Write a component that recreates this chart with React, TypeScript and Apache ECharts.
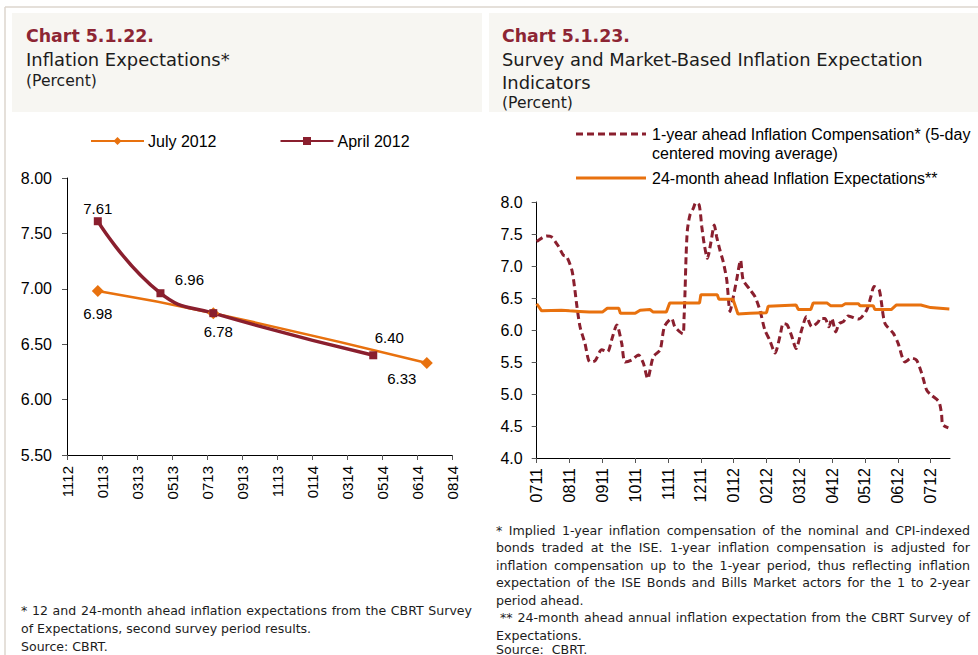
import React, { useEffect, useRef } from 'react';
import * as echarts from 'echarts';

// ---------- Left chart data (Chart 5.1.22) ----------
const leftTickLabels = ['1112', '0113', '0313', '0513', '0713', '0913', '1113', '0114', '0314', '0514', '0614', '0814'];
const leftYTicks = { min: 5.5, max: 8.0, step: 0.5 };
const july2012X = [0.88, 4.18, 10.28];
const july2012Y = [6.98, 6.78, 6.33];
const april2012X = [0.88, 2.67, 4.18, 8.75];
const april2012Y = [7.61, 6.96, 6.78, 6.4];

// ---------- Right chart data (Chart 5.1.23) ----------
const rightTickLabels = ['0711', '0811', '0911', '1011', '1111', '1211', '0112', '0212', '0312', '0412', '0512', '0612', '0712'];
const rightYTicks = { min: 4.0, max: 8.0, step: 0.5 };
const rightXMax = 12.59;
const compMonths = [
  0, 0.3, 0.44, 0.66, 0.81, 0.91, 1.07, 1.15, 1.22, 1.32, 1.47, 1.62, 1.78, 1.98, 2.16, 2.28, 2.44, 2.59, 2.69, 2.89,
  3.1, 3.25, 3.38, 3.55, 3.76, 3.89, 4.11, 4.21, 4.45, 4.49, 4.52, 4.55, 4.59, 4.67, 4.77, 4.85, 4.95, 5.03, 5.1, 5.2,
  5.3, 5.41, 5.48, 5.58, 5.68, 5.79, 5.89, 5.97, 6.09, 6.21, 6.29, 6.5, 6.65, 6.8, 6.95, 7.1, 7.26, 7.41, 7.51, 7.63,
  7.77, 7.9, 8.07, 8.22, 8.38, 8.58, 8.63, 8.78, 8.9, 8.99, 9.11, 9.21, 9.34, 9.49, 9.8, 10.05, 10.18, 10.28, 10.43,
  10.49, 10.61, 10.86, 11.01, 11.22, 11.42, 11.57, 11.73, 11.88, 12.03, 12.25, 12.33, 12.37, 12.54,
];
const compValues = [
  7.38, 7.47, 7.46, 7.31, 7.17, 7.15, 6.94, 6.68, 6.39, 6.05, 5.79, 5.5, 5.52, 5.69, 5.66, 5.84, 6.08, 5.79, 5.5, 5.53,
  5.61, 5.48, 5.24, 5.58, 5.69, 6.05, 6.18, 6.05, 5.94, 6.21, 6.62, 7.15, 7.56, 7.8, 7.9, 7.99, 7.95, 7.61, 7.35, 7.12,
  7.35, 7.64, 7.46, 7.25, 7.07, 6.78, 6.29, 6.47, 6.78, 7.09, 6.78, 6.63, 6.52, 6.31, 6.0, 5.84, 5.64, 5.9, 6.1, 6.08,
  5.9, 5.71, 6.0, 6.21, 6.05, 6.13, 6.18, 6.18, 6.05, 6.18, 5.97, 6.1, 6.13, 6.22, 6.17, 6.31, 6.52, 6.68, 6.63,
  6.47, 6.1, 5.95, 5.79, 5.5, 5.56, 5.53, 5.32, 5.06, 4.98, 4.88, 4.7, 4.52, 4.47,
];
const expMonths = [
  0, 0.15, 0.75, 1.0, 1.3, 1.6, 2.0, 2.15, 2.5, 2.55, 3.0, 3.15, 3.45, 3.55, 3.95, 4.05, 4.96, 5.0, 5.5, 5.55, 5.98,
  6.13, 6.5, 7.0, 7.05, 7.9, 7.97, 8.35, 8.42, 8.85, 8.95, 9.3, 9.4, 9.8, 9.85, 10.25, 10.3, 10.8, 10.95, 11.7, 12.0, 12.57,
];
const expValues = [
  6.41, 6.3, 6.31, 6.3, 6.29, 6.28, 6.28, 6.34, 6.34, 6.26, 6.26, 6.31, 6.32, 6.28, 6.28, 6.42, 6.42, 6.55, 6.55, 6.48, 6.48,
  6.25, 6.26, 6.27, 6.37, 6.39, 6.32, 6.32, 6.42, 6.42, 6.38, 6.38, 6.41, 6.41, 6.38, 6.38, 6.32, 6.32, 6.39, 6.39, 6.35, 6.33,
];

// ---------- Texts ----------
const leftTitle = 'Chart 5.1.22.';
const leftSubtitle = 'Inflation Expectations*';
const rightTitle = 'Chart 5.1.23.';
const rightSubtitle = ['Survey and Market-Based Inflation Expectation', 'Indicators'];
const unitText = '(Percent)';
const leftSeriesNames = ['July 2012', 'April 2012'];
const rightSeriesNames = ['1-year ahead Inflation Compensation* (5-day', 'centered moving average)', '24-month ahead Inflation Expectations**'];
const leftNotes = [
  '* 12 and 24-month ahead inflation expectations from the CBRT Survey',
  'of Expectations, second survey period results.',
  'Source: CBRT.',
];
const rightNotes = [
  '* Implied 1-year inflation compensation of the nominal and CPI-indexed',
  'bonds traded at the ISE. 1-year inflation compensation is adjusted for',
  'inflation compensation up to the 1-year period, thus reflecting inflation',
  'expectation of the ISE Bonds and Bills Market actors for the 1 to 2-year',
  'period ahead.',
  ' ** 24-month ahead annual inflation expectation from the CBRT Survey of',
  'Expectations.',
  'Source:  CBRT.',
];

// ---------- Styles ----------
const MAROON = '#8A1F2E';
const ORANGE = '#E8710E';
const TITLE_RED = '#8D2534';
const TEXT = '#1c1c1c';
const AXIS_FONT = "'Liberation Sans', Arial, sans-serif";
const NOTE_FONT = "'DejaVu Sans', sans-serif";

let ctx: CanvasRenderingContext2D | null = null;
function measure(t: string, size: number, family: string, weight = 'normal') {
  if (!ctx) ctx = document.createElement('canvas').getContext('2d');
  if (!ctx) return t.length * size * 0.55;
  ctx.font = `${weight} ${size}px ${family}`;
  return ctx.measureText(t).width;
}
function fitSize(t: string, family: string, weight: string, target: number) {
  return (target / measure(t, 100, family, weight)) * 100;
}

function textEl(text: string, x: number, y: number, size: number, family: string, fill: string, weight = 'normal') {
  return {
    type: 'text',
    x,
    y,
    silent: true,
    style: { text, fontSize: size, fontFamily: family, fontWeight: weight, fill, align: 'left', verticalAlign: 'middle' },
  };
}

function paragraphLine(els: any[], line: string, x: number, y: number, size: number, justifyWidth?: number) {
  if (!justifyWidth) {
    els.push(textEl(line, x, y, size, NOTE_FONT, TEXT));
    return;
  }
  const lead = line.startsWith(' ') ? measure(' ', size, NOTE_FONT) : 0;
  const words = line.split(' ').filter((w) => w.length > 0);
  const widths = words.map((w) => measure(w, size, NOTE_FONT));
  const total = widths.reduce((a, b) => a + b, 0);
  const gap = (justifyWidth - lead - total) / (words.length - 1);
  let cx = x + lead;
  words.forEach((w, i) => {
    els.push(textEl(w, cx, y, size, NOTE_FONT, TEXT));
    cx += widths[i] + gap;
  });
}

function buildGraphic() {
  const els: any[] = [];
  // frame
  els.push({ type: 'line', silent: true, shape: { x1: 5, y1: 7, x2: 978, y2: 7 }, style: { stroke: '#DCD6CE', lineWidth: 1.5 } });
  els.push({ type: 'line', silent: true, shape: { x1: 5, y1: 7, x2: 5, y2: 655 }, style: { stroke: '#DCD6CE', lineWidth: 1.5 } });
  els.push({ type: 'rect', silent: true, shape: { x: 12, y: 13, width: 470, height: 99 }, style: { fill: '#F7F6F2' } });
  els.push({ type: 'rect', silent: true, shape: { x: 489, y: 13, width: 489, height: 99 }, style: { fill: '#F7F6F2' } });

  // titles
  const titleSize = fitSize(rightTitle, NOTE_FONT, 'bold', 128);
  const subSize = fitSize(rightSubtitle[0], NOTE_FONT, 'normal', 421);
  const unitSize = fitSize(unitText, NOTE_FONT, 'normal', 71);
  els.push(textEl(leftTitle, 26, 36, titleSize, NOTE_FONT, TITLE_RED, 'bold'));
  els.push(textEl(leftSubtitle, 26, 59, subSize, NOTE_FONT, TEXT));
  els.push(textEl(unitText, 26, 81, unitSize, NOTE_FONT, TEXT));
  els.push(textEl(rightTitle, 502, 36, titleSize, NOTE_FONT, TITLE_RED, 'bold'));
  els.push(textEl(rightSubtitle[0], 502, 59, subSize, NOTE_FONT, TEXT));
  els.push(textEl(rightSubtitle[1], 502, 82, subSize, NOTE_FONT, TEXT));
  els.push(textEl(unitText, 502, 103, unitSize, NOTE_FONT, TEXT));

  // right legend
  els.push({ type: 'line', silent: true, shape: { x1: 576, y1: 134, x2: 646, y2: 134 }, style: { stroke: MAROON, lineWidth: 3, lineDash: [7, 4] } });
  els.push(textEl(rightSeriesNames[0], 652, 134, 16, AXIS_FONT, '#000'));
  els.push(textEl(rightSeriesNames[1], 652, 153, 16, AXIS_FONT, '#000'));
  els.push({ type: 'line', silent: true, shape: { x1: 576, y1: 178, x2: 646, y2: 178 }, style: { stroke: ORANGE, lineWidth: 3 } });
  els.push(textEl(rightSeriesNames[2], 652, 178, 16, AXIS_FONT, '#000'));

  // footnotes
  const leftNoteSize = fitSize(leftNotes[0], NOTE_FONT, 'normal', 451) * 0.985;
  const leftYs = [610, 628, 646];
  paragraphLine(els, leftNotes[0], 21, leftYs[0], leftNoteSize, 451);
  paragraphLine(els, leftNotes[1], 21, leftYs[1], leftNoteSize);
  paragraphLine(els, leftNotes[2], 21, leftYs[2], leftNoteSize);

  const justified = [true, true, true, true, false, true, false, false];
  const rightNoteSize =
    Math.min(...rightNotes.filter((_, i) => justified[i]).map((l) => fitSize(l, NOTE_FONT, 'normal', 474))) * 0.985;
  const rightYs = [530, 547.5, 565, 582.5, 600, 617.5, 635, 649];
  rightNotes.forEach((line, i) => paragraphLine(els, line, 496, rightYs[i], rightNoteSize, justified[i] ? 474 : undefined));
  return els;
}

const julyLabelPlacement = [
  { position: 'bottom', offset: [0, 4] },
  { position: 'bottom', offset: [5, 0] },
  { position: 'bottom', offset: [-25, -3] },
];
const aprilLabelPlacement = [
  { position: 'top', offset: [0, 4] },
  { position: 'top', offset: [29, 3] },
  { show: false },
  { position: 'top', offset: [16, -1] },
];

function buildOption() {
  const labelStyle = { show: true, fontSize: 15, color: '#000', fontFamily: AXIS_FONT, formatter: (p: any) => Number(p.value[1]).toFixed(2) };
  const axisCommon = {
    axisLine: { show: true, lineStyle: { color: '#000', width: 1 } },
    axisTick: { show: true, length: 5, lineStyle: { color: '#555' } },
    splitLine: { show: false },
  };
  return {
    animation: false,
    backgroundColor: '#fff',
    graphic: buildGraphic(),
    legend: {
      data: leftSeriesNames,
      left: 90,
      top: 133,
      itemWidth: 53,
      itemHeight: 10,
      itemGap: 63,
      selectedMode: false,
      textStyle: { fontSize: 16, color: '#000', fontFamily: AXIS_FONT, padding: [0, 0, 0, -1] },
      padding: 0,
    },
    grid: [
      { left: 67, top: 178, width: 385, height: 277, outerBoundsMode: 'none' },
      { left: 536.7, top: 202, width: 413.3, height: 256, outerBoundsMode: 'none' },
    ],
    xAxis: [
      {
        type: 'value',
        gridIndex: 0,
        min: 0,
        max: leftTickLabels.length - 1,
        interval: 1,
        ...axisCommon,
        axisLabel: {
          rotate: 90,
          margin: 11,
          fontSize: 15,
          color: '#000',
          fontFamily: AXIS_FONT,
          formatter: (v: number) => leftTickLabels[Math.round(v)] ?? '',
        },
      },
      {
        type: 'value',
        gridIndex: 1,
        min: 0,
        max: rightXMax,
        interval: 1,
        ...axisCommon,
        axisTick: { show: true, length: 5, lineStyle: { color: '#555' }, customValues: rightTickLabels.map((_, i) => i) },
        axisLabel: {
          rotate: 90,
          margin: 10,
          fontSize: 16,
          color: '#000',
          fontFamily: AXIS_FONT,
          customValues: rightTickLabels.map((_, i) => i),
          formatter: (v: number) => (Math.abs(v - Math.round(v)) < 1e-6 ? rightTickLabels[Math.round(v)] ?? '' : ''),
        },
      },
    ],
    yAxis: [
      {
        type: 'value',
        gridIndex: 0,
        min: leftYTicks.min,
        max: leftYTicks.max,
        interval: leftYTicks.step,
        ...axisCommon,
        axisLabel: { margin: 15, fontSize: 16, color: '#000', fontFamily: AXIS_FONT, formatter: (v: number) => v.toFixed(2) },
      },
      {
        type: 'value',
        gridIndex: 1,
        min: rightYTicks.min,
        max: rightYTicks.max,
        interval: rightYTicks.step,
        ...axisCommon,
        axisLabel: { margin: 14, fontSize: 16, color: '#000', fontFamily: AXIS_FONT, formatter: (v: number) => v.toFixed(1) },
      },
    ],
    series: [
      {
        name: leftSeriesNames[0],
        type: 'line',
        xAxisIndex: 0,
        yAxisIndex: 0,
        smooth: 0.5,
        symbol: 'diamond',
        symbolSize: 12,
        itemStyle: { color: ORANGE },
        lineStyle: { color: ORANGE, width: 2.5 },
        label: labelStyle,
        emphasis: { disabled: true },
        data: july2012X.map((x, i) => ({ value: [x, july2012Y[i]], label: { ...labelStyle, ...julyLabelPlacement[i] } })),
      },
      {
        name: leftSeriesNames[1],
        type: 'line',
        xAxisIndex: 0,
        yAxisIndex: 0,
        smooth: 0.5,
        symbol: 'rect',
        symbolSize: 8,
        itemStyle: { color: MAROON },
        lineStyle: { color: MAROON, width: 3.5 },
        label: labelStyle,
        emphasis: { disabled: true },
        data: april2012X.map((x, i) => ({ value: [x, april2012Y[i]], label: { ...labelStyle, ...aprilLabelPlacement[i] } })),
      },
      {
        name: 'comp',
        type: 'line',
        xAxisIndex: 1,
        yAxisIndex: 1,
        smooth: 0.25,
        symbol: 'none',
        lineStyle: { color: MAROON, width: 3, type: [7, 4] },
        emphasis: { disabled: true },
        data: compMonths.map((m, i) => [m, compValues[i]]),
      },
      {
        name: 'exp',
        type: 'line',
        xAxisIndex: 1,
        yAxisIndex: 1,
        symbol: 'none',
        lineStyle: { color: ORANGE, width: 3 },
        emphasis: { disabled: true },
        data: expMonths.map((m, i) => [m, expValues[i]]),
      },
    ],
  };
}

export default function App() {
  const ref = useRef<HTMLDivElement>(null);
  useEffect(() => {
    if (!ref.current) return;
    const chart = echarts.init(ref.current, undefined, { renderer: 'svg' });
    chart.setOption(buildOption() as any);
    return () => chart.dispose();
  }, []);
  return <div ref={ref} style={{ position: 'absolute', left: 0, top: 0, width: 978, height: 655, background: '#fff' }} />;
}
